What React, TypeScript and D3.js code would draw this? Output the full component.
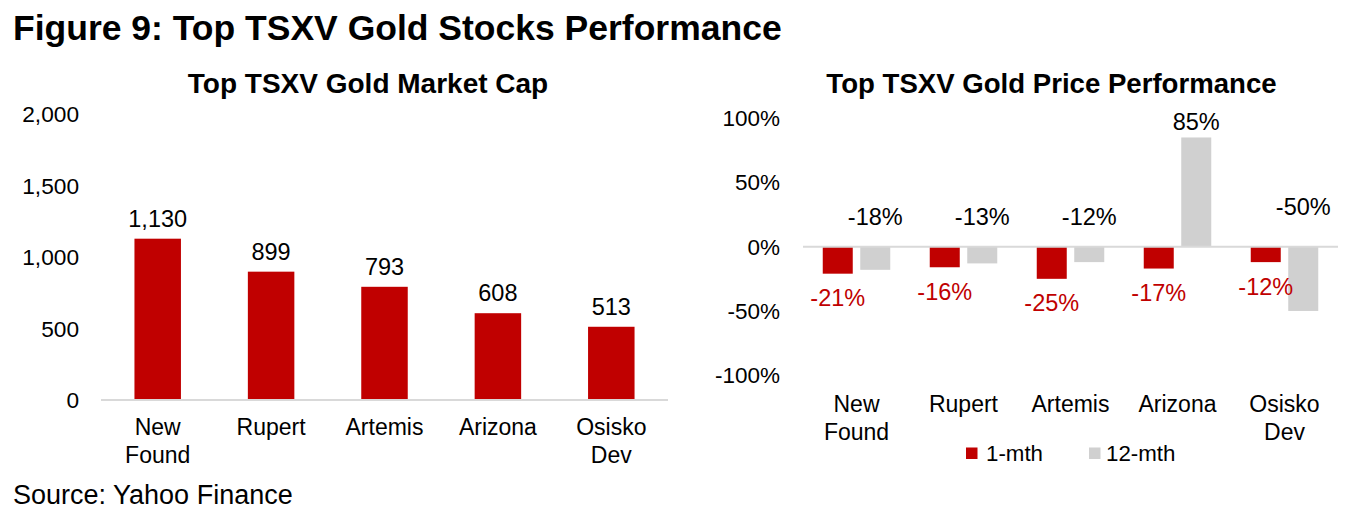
import React from "react";
import * as d3 from "d3";

const categories = ["New Found", "Rupert", "Artemis", "Arizona", "Osisko Dev"];
const categoryLines = [["New", "Found"], ["Rupert"], ["Artemis"], ["Arizona"], ["Osisko", "Dev"]];
const marketCap = [1130, 899, 793, 608, 513];
const capTicks = [0, 500, 1000, 1500, 2000];
const seriesNames = ["1-mth", "12-mth"];
const oneMonth = [-21, -16, -25, -17, -12];
const twelveMonth = [-18, -13, -12, 85, -50];
const perfTicks = [-100, -50, 0, 50, 100];

const RED = "#C00000";
const GREY = "#D0D0D0";
const AXIS = "#D9D9D9";
const FONT = "'Liberation Sans', Arial, Helvetica, sans-serif";

// layout constants (not data)
const grey12LabelNudge = [0, 0, 0, 0, -10];

export default function App() {
  const W = 1369;
  const H = 526;

  // Left chart scales
  const xL = d3.scaleBand<string>().domain(categories).range([101, 668]);
  const yL = d3.scaleLinear().domain([0, 2000]).range([400, 114.5]);
  const barWL = xL.step() * 0.41;
  const fmtCap = d3.format(",");

  // Right chart scales
  const xR = d3.scaleBand<string>().domain(categories).range([803, 1338]);
  const xSub = d3.scaleBand<string>().domain(seriesNames).range([-33.75, 33.75]).paddingInner(0.2);
  const yR = d3.scaleLinear().domain([-100, 100]).range([375.2, 118.2]);
  const pct = (v: number) => `${v}%`;

  const series = [
    { name: seriesNames[0], values: oneMonth, color: RED },
    { name: seriesNames[1], values: twelveMonth, color: GREY },
  ];

  return (
    <svg
      width={W}
      height={H}
      style={{ position: "absolute", left: 0, top: 0, background: "#fff" }}
      fontFamily={FONT}
    >
      <rect x={0} y={0} width={W} height={H} fill="#fff" />
      <text x={13} y={40} fontSize={35.5} fontWeight="bold" fill="#000">
        Figure 9: Top TSXV Gold Stocks Performance
      </text>

      {/* Left chart */}
      <text x={368} y={93} fontSize={28} fontWeight="bold" textAnchor="middle" fill="#000">
        Top TSXV Gold Market Cap
      </text>
      {capTicks.map((t) => (
        <text key={"lt" + t} x={79} y={yL(t)} dy="0.35em" fontSize={22.7} textAnchor="end" fill="#000">
          {fmtCap(t)}
        </text>
      ))}
      {categories.map((c, i) => {
        const cx = (xL(c) as number) + xL.bandwidth() / 2;
        return (
          <g key={"lb" + c}>
            <rect x={cx - barWL / 2} y={yL(marketCap[i])} width={barWL} height={yL(0) - yL(marketCap[i])} fill={RED} />
            <text x={cx} y={yL(marketCap[i]) - 12} fontSize={23.5} textAnchor="middle" fill="#000">
              {fmtCap(marketCap[i])}
            </text>
            {categoryLines[i].map((ln, j) => (
              <text key={ln} x={cx} y={yL(0) + 35 + j * 28} fontSize={23} textAnchor="middle" fill="#000">
                {ln}
              </text>
            ))}
          </g>
        );
      })}
      <line x1={101} x2={668} y1={yL(0)} y2={yL(0)} stroke={AXIS} strokeWidth={2} />

      {/* Right chart */}
      <text x={1051.5} y={93} fontSize={27.6} fontWeight="bold" textAnchor="middle" fill="#000">
        Top TSXV Gold Price Performance
      </text>
      {perfTicks.map((t) => (
        <text key={"rt" + t} x={780} y={yR(t)} dy="0.35em" fontSize={22.5} textAnchor="end" fill="#000">
          {pct(t)}
        </text>
      ))}
      {categories.map((c, i) => {
        const cx = (xR(c) as number) + xR.bandwidth() / 2;
        return (
          <g key={"rb" + c}>
            {series.map((s) => {
              const v = s.values[i];
              const bx = cx + (xSub(s.name) as number);
              const bw = xSub.bandwidth();
              const y0 = yR(0);
              const y1 = yR(v);
              return (
                <rect key={s.name} x={bx} y={Math.min(y0, y1)} width={bw} height={Math.abs(y1 - y0)} fill={s.color} />
              );
            })}
            {/* 1-mth labels below bars */}
            <text
              x={cx + (xSub(seriesNames[0]) as number) + xSub.bandwidth() / 2}
              y={yR(oneMonth[i]) + 32.5}
              fontSize={23.5}
              textAnchor="middle"
              fill={RED}
            >
              {pct(oneMonth[i])}
            </text>
            {/* 12-mth labels above */}
            <text
              x={cx + (xSub(seriesNames[1]) as number) + xSub.bandwidth() / 2}
              y={(twelveMonth[i] > 0 ? yR(twelveMonth[i]) - 7 : yR(0) - 21.7) + grey12LabelNudge[i]}
              fontSize={23.5}
              textAnchor="middle"
              fill="#000"
            >
              {pct(twelveMonth[i])}
            </text>
            {categoryLines[i].map((ln, j) => (
              <text key={ln} x={cx} y={411.5 + j * 28} fontSize={23} textAnchor="middle" fill="#000">
                {ln}
              </text>
            ))}
          </g>
        );
      })}
      <line x1={803} x2={1338} y1={yR(0)} y2={yR(0)} stroke={AXIS} strokeWidth={2} />

      {/* Legend */}
      {series.map((s, k) => {
        const lx = k === 0 ? 966 : 1089;
        return (
          <g key={"lg" + s.name}>
            <rect x={lx} y={447.5} width={11.5} height={11.5} fill={s.color} />
            <text x={lx + (k === 0 ? 20 : 17)} y={461} fontSize={22.3} fill="#000">
              {s.name}
            </text>
          </g>
        );
      })}

      <text x={13} y={504} fontSize={27} fill="#000">
        Source: Yahoo Finance
      </text>
    </svg>
  );
}
